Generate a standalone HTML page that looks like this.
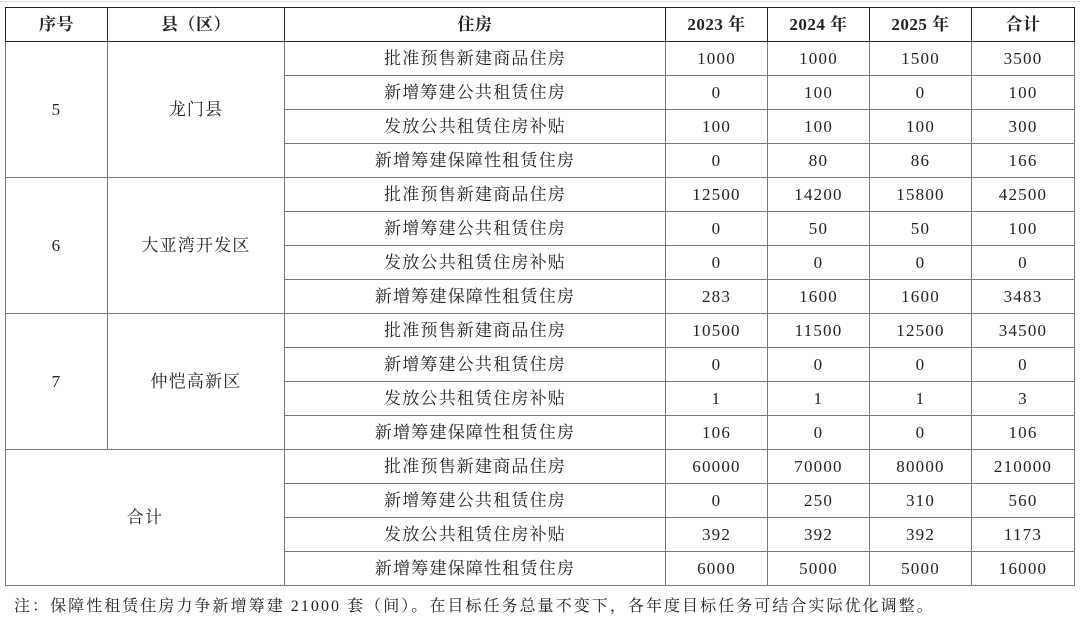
<!DOCTYPE html>
<html><head><meta charset="utf-8"><style>
body{margin:0;width:1080px;height:624px;background:#fff;overflow:hidden;position:relative;font-family:"Liberation Serif","Noto Serif CJK SC",serif;color:#222}
.top{position:absolute;left:0;top:1px;width:1080px;height:1px;background:#ddd}
table{position:absolute;left:5px;top:7px;border-collapse:collapse;table-layout:fixed}
td{border:1px solid #777;height:33px;padding:0;text-align:center;font-size:17px;letter-spacing:1.2px;line-height:18px;white-space:nowrap}
tr.h td{font-weight:bold;font-size:17px;letter-spacing:0.5px;border-color:#222}
table{border:1.5px solid #222}
.note{position:absolute;left:14px;top:593px;font-size:16px;letter-spacing:2.05px;white-space:nowrap}
</style></head><body>
<div class="top"></div>
<table>
<colgroup><col style="width:102px"><col style="width:177px"><col style="width:381px"><col style="width:102px"><col style="width:102px"><col style="width:102px"><col style="width:103px"></colgroup>
<tr class="h"><td>序号</td><td>县（区）</td><td>住房</td><td>2023 年</td><td>2024 年</td><td>2025 年</td><td>合计</td></tr>
<tr><td rowspan="4">5</td><td rowspan="4">龙门县</td><td>批准预售新建商品住房</td><td>1000</td><td>1000</td><td>1500</td><td>3500</td></tr>
<tr><td>新增筹建公共租赁住房</td><td>0</td><td>100</td><td>0</td><td>100</td></tr>
<tr><td>发放公共租赁住房补贴</td><td>100</td><td>100</td><td>100</td><td>300</td></tr>
<tr><td>新增筹建保障性租赁住房</td><td>0</td><td>80</td><td>86</td><td>166</td></tr>
<tr><td rowspan="4">6</td><td rowspan="4">大亚湾开发区</td><td>批准预售新建商品住房</td><td>12500</td><td>14200</td><td>15800</td><td>42500</td></tr>
<tr><td>新增筹建公共租赁住房</td><td>0</td><td>50</td><td>50</td><td>100</td></tr>
<tr><td>发放公共租赁住房补贴</td><td>0</td><td>0</td><td>0</td><td>0</td></tr>
<tr><td>新增筹建保障性租赁住房</td><td>283</td><td>1600</td><td>1600</td><td>3483</td></tr>
<tr><td rowspan="4">7</td><td rowspan="4">仲恺高新区</td><td>批准预售新建商品住房</td><td>10500</td><td>11500</td><td>12500</td><td>34500</td></tr>
<tr><td>新增筹建公共租赁住房</td><td>0</td><td>0</td><td>0</td><td>0</td></tr>
<tr><td>发放公共租赁住房补贴</td><td>1</td><td>1</td><td>1</td><td>3</td></tr>
<tr><td>新增筹建保障性租赁住房</td><td>106</td><td>0</td><td>0</td><td>106</td></tr>
<tr><td rowspan="4" colspan="2">合计</td><td>批准预售新建商品住房</td><td>60000</td><td>70000</td><td>80000</td><td>210000</td></tr>
<tr><td>新增筹建公共租赁住房</td><td>0</td><td>250</td><td>310</td><td>560</td></tr>
<tr><td>发放公共租赁住房补贴</td><td>392</td><td>392</td><td>392</td><td>1173</td></tr>
<tr><td>新增筹建保障性租赁住房</td><td>6000</td><td>5000</td><td>5000</td><td>16000</td></tr>
</table>
<div class="note">注：保障性租赁住房力争新增筹建 21000 套（间）。在目标任务总量不变下，各年度目标任务可结合实际优化调整。</div>
</body></html>
